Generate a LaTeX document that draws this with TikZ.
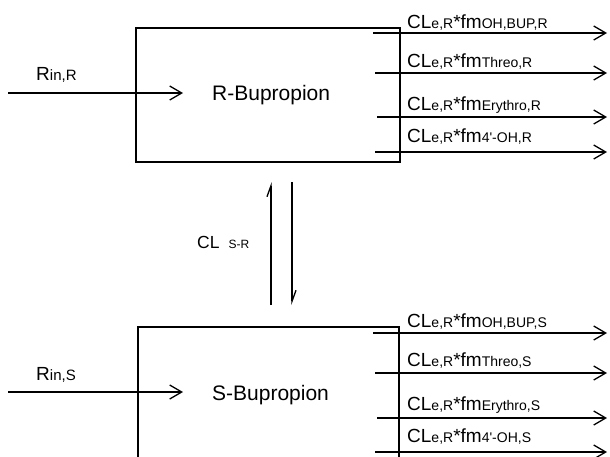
\documentclass[tikz,border=0pt]{standalone}
\usepackage{fontspec}
\setmainfont{Liberation Sans}
\usetikzlibrary{arrows.meta}

% elimination rate label: CL_{e,R} * fm_{<metabolite>}
\newcommand{\bigtxt}[1]{{\fontsize{19}{19}\selectfont #1}}
\newcommand{\smalltxt}[1]{{\fontsize{14}{14}\selectfont #1}}
\newcommand{\clrate}[1]{\bigtxt{CL}\smalltxt{e,R}\bigtxt{*fm}\smalltxt{#1}}
% dosing rate label: R_{in,X}
\newcommand{\inrate}[1]{{\fontsize{19}{19}\selectfont R}{\fontsize{15}{15}\selectfont in,#1}}

\begin{document}
\begin{tikzpicture}[x=1pt,y=-1pt,
  compartment/.style={draw, line width=1.6pt, inner sep=0pt, anchor=north west},
  flow/.style={line width=1.3pt, -{Straight Barb[length=12pt,width=14pt,line width=1.3pt]}},
  harpoon/.style={line width=1.3pt, -{Straight Barb[left,length=11pt,width=8pt,line width=1.3pt]}},
  rate/.style={anchor=base west, inner sep=0pt},
  title/.style={anchor=base west, inner sep=0pt, font=\fontsize{21}{21}\selectfont}]
\useasboundingbox (0,0) rectangle (610,456);
\clip (0,0) rectangle (610,456);

% compartments
\node[compartment, minimum width=264pt, minimum height=134pt] (rbox) at (135,27) {};
\node[compartment, minimum width=261pt, minimum height=160pt] (sbox) at (137,326) {};
\node[title] (rname) at (212,100) {R-Bupropion};
\node[title] (sname) at (212,400) {S-Bupropion};

% dosing inputs
\coordinate (rin0) at (8,93);
\coordinate (rin1) at (183,93);
\draw[flow] (rin0) -- (rin1);
\node[rate] (rinlab) at (36,80) {\inrate{R}};
\coordinate (sin0) at (8,392);
\coordinate (sin1) at (183,392);
\draw[flow] (sin0) -- (sin1);
\node[rate] (sinlab) at (36,380) {\inrate{S}};

% metabolic clearance of R-bupropion
\foreach \n/\y/\xs/\yl/\sub in {1/33/373/28/{OH,BUP,R}, 2/73/375/67/{Threo,R},
    3/117/377/110/{Erythro,R}, 4/152/375/142/{4\textquotesingle-OH,R}} {
  \coordinate (rout\n a) at (\xs,\y);
  \coordinate (rout\n b) at (607,\y);
  \draw[flow] (rout\n a) -- (rout\n b);
  \node[rate] (rlab\n) at (407,\yl) {\clrate{\sub}};
}

% metabolic clearance of S-bupropion
\foreach \n/\y/\xs/\yl/\sub in {1/333/373/327/{OH,BUP,S}, 2/373/375/366/{Threo,S},
    3/418/377/410/{Erythro,S}, 4/452/375/442/{4\textquotesingle-OH,S}} {
  \coordinate (sout\n a) at (\xs,\y);
  \coordinate (sout\n b) at (607,\y);
  \draw[flow] (sout\n a) -- (sout\n b);
  \node[rate] (slab\n) at (407,\yl) {\clrate{\sub}};
}

% interconversion between enantiomers
\coordinate (up0) at (271,305);
\coordinate (up1) at (271,182);
\coordinate (dn0) at (292,182);
\coordinate (dn1) at (292,305);
\draw[harpoon] (up0) -- (up1);
\draw[harpoon] (dn0) -- (dn1);
\node[rate] (clsr) at (197,248) {{\fontsize{17.5}{17.5}\selectfont CL}\hspace{9pt}{\fontsize{12}{12}\selectfont S-R}};
\end{tikzpicture}
\end{document}
